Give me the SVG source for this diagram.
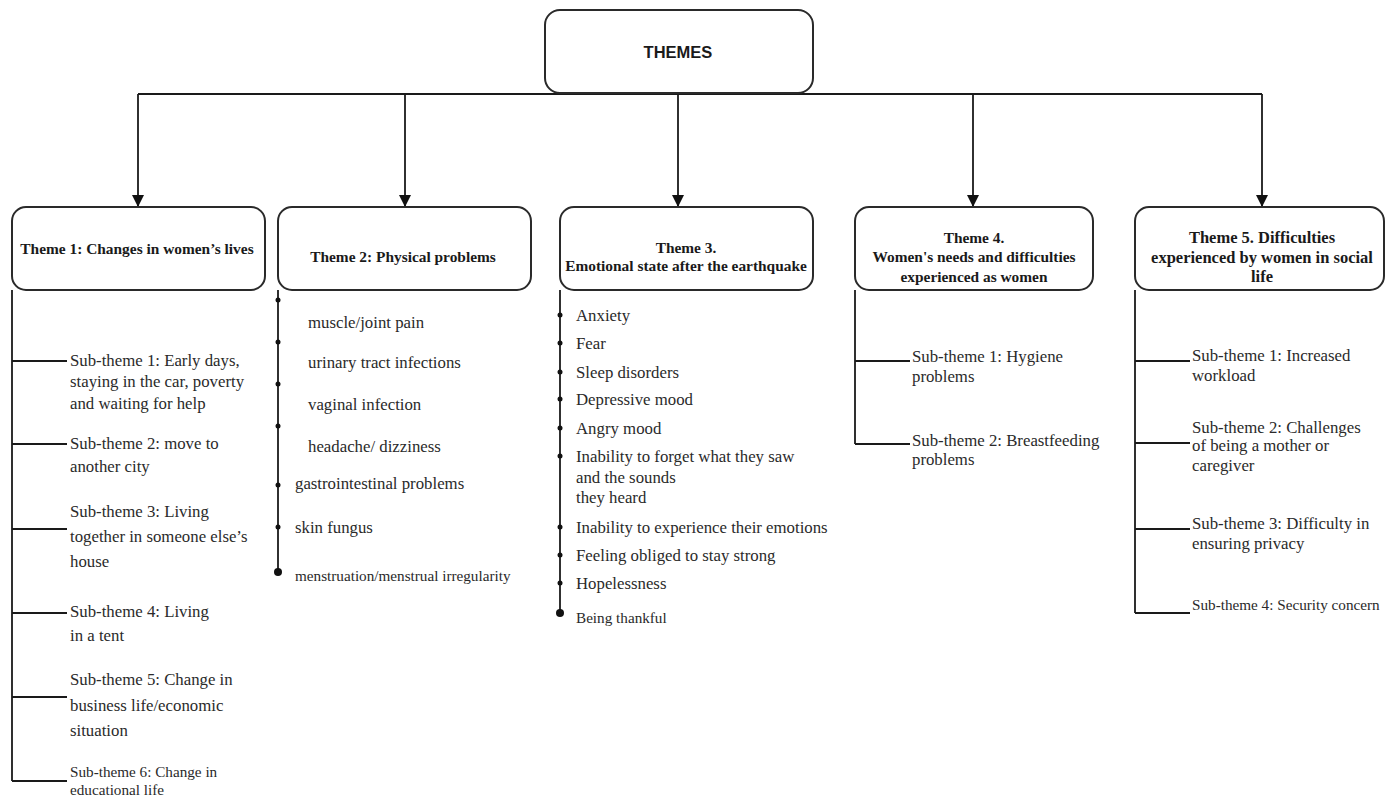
<svg xmlns="http://www.w3.org/2000/svg" width="1386" height="796" viewBox="0 0 1386 796">
<defs>
<marker id="arr" viewBox="0 0 12 12" refX="11" refY="6" markerWidth="12" markerHeight="12" markerUnits="userSpaceOnUse" orient="auto">
<path d="M0,0 L12,6 L0,12 Z" fill="#111"/>
</marker>
</defs>
<style>
.box{fill:#fff;stroke:#2a2a2a;stroke-width:2}
.ln{fill:none;stroke:#1a1a1a;stroke-width:1.8}
.dot{fill:#111}
.top{font-family:"Liberation Sans",Arial,sans-serif;font-weight:bold;font-size:16.5px;fill:#1a1a1a;text-anchor:middle}
.tt{font-family:"Liberation Serif","Times New Roman",serif;font-weight:bold;font-size:15.4px;fill:#1a1a1a;text-anchor:middle}
.st{font-family:"Liberation Serif","Times New Roman",serif;font-size:16.8px;fill:#2a2a2a}
.sm{font-family:"Liberation Serif","Times New Roman",serif;font-size:15.2px;fill:#2a2a2a}
</style>
<rect width="1386" height="796" fill="#fff"/>

<g id="connectors">
<path class="ln" d="M138,94 H1262"/>
<path class="ln" d="M138,94 V206" marker-end="url(#arr)"/>
<path class="ln" d="M405,94 V206" marker-end="url(#arr)"/>
<path class="ln" d="M678,94 V206" marker-end="url(#arr)"/>
<path class="ln" d="M973,94 V206" marker-end="url(#arr)"/>
<path class="ln" d="M1262,94 V206" marker-end="url(#arr)"/>
<!-- theme 1 tree -->
<path class="ln" d="M12,290 V781 M12,361 H67 M12,444 H67 M12,529 H67 M12,613 H67 M12,697 H67 M12,781 H67"/>
<!-- theme 2 tree -->
<path class="ln" d="M278,290 V572"/>
<circle class="dot" cx="278" cy="300" r="2.5"/>
<circle class="dot" cx="278" cy="342" r="2.5"/>
<circle class="dot" cx="278" cy="384" r="2.5"/>
<circle class="dot" cx="278" cy="426" r="2.5"/>
<circle class="dot" cx="278" cy="485" r="2.5"/>
<circle class="dot" cx="278" cy="527" r="2.5"/>
<circle class="dot" cx="278" cy="572" r="4"/>
<!-- theme 3 tree -->
<path class="ln" d="M560,290 V613"/>
<circle class="dot" cx="560" cy="315" r="2.5"/>
<circle class="dot" cx="560" cy="343" r="2.5"/>
<circle class="dot" cx="560" cy="372" r="2.5"/>
<circle class="dot" cx="560" cy="399" r="2.5"/>
<circle class="dot" cx="560" cy="428" r="2.5"/>
<circle class="dot" cx="560" cy="456" r="2.5"/>
<circle class="dot" cx="560" cy="527" r="2.5"/>
<circle class="dot" cx="560" cy="555" r="2.5"/>
<circle class="dot" cx="560" cy="583" r="2.5"/>
<circle class="dot" cx="560" cy="613" r="4"/>
<!-- theme 4 tree -->
<path class="ln" d="M855,290 V444 M855,361 H910 M855,444 H910"/>
<!-- theme 5 tree -->
<path class="ln" d="M1135,290 V613 M1135,361 H1190 M1135,443 H1190 M1135,529 H1190 M1135,613 H1190"/>
</g>

<g id="themes">
<rect class="box" x="545" y="10" width="268" height="83" rx="15"/>
<text class="top" x="678" y="58">THEMES</text>
</g>

<g id="theme1">
<rect class="box" x="12" y="207" width="253" height="83" rx="14"/>
<text class="tt" x="137" y="254">Theme 1: Changes in women’s lives</text>
<text class="st" x="70" y="366">Sub-theme 1: Early days,</text>
<text class="st" x="70" y="387">staying in the car, poverty</text>
<text class="st" x="70" y="409">and waiting for help</text>
<text class="st" x="70" y="449">Sub-theme 2: move to</text>
<text class="st" x="70" y="472">another city</text>
<text class="st" x="70" y="517">Sub-theme 3: Living</text>
<text class="st" x="70" y="542">together in someone else’s</text>
<text class="st" x="70" y="567">house</text>
<text class="st" x="70" y="617">Sub-theme 4: Living</text>
<text class="st" x="70" y="641">in a tent</text>
<text class="st" x="70" y="685">Sub-theme 5: Change in</text>
<text class="st" x="70" y="711">business life/economic</text>
<text class="st" x="70" y="736">situation</text>
<text class="sm" x="70" y="777">Sub-theme 6: Change in</text>
<text class="sm" x="70" y="795">educational life</text>
</g>

<g id="theme2">
<rect class="box" x="278" y="207" width="253" height="83" rx="14"/>
<text class="tt" x="403" y="262">Theme 2: Physical problems</text>
<text class="st" x="308" y="327.5">muscle/joint pain</text>
<text class="st" x="308" y="367.5">urinary tract infections</text>
<text class="st" x="308" y="409.5">vaginal infection</text>
<text class="st" x="308" y="451.5">headache/ dizziness</text>
<text class="st" x="295" y="488.5">gastrointestinal problems</text>
<text class="st" x="295" y="532.5">skin fungus</text>
<text class="sm" x="295" y="581">menstruation/menstrual irregularity</text>
</g>

<g id="theme3">
<rect class="box" x="560" y="207" width="253" height="83" rx="14"/>
<text class="tt" x="686" y="253">Theme 3.</text>
<text class="tt" x="686" y="271">Emotional state after the earthquake</text>
<text class="st" x="576" y="320.5">Anxiety</text>
<text class="st" x="576" y="348.5">Fear</text>
<text class="st" x="576" y="377.5">Sleep disorders</text>
<text class="st" x="576" y="404.5">Depressive mood</text>
<text class="st" x="576" y="433.5">Angry mood</text>
<text class="st" x="576" y="461.5">Inability to forget what they saw</text>
<text class="st" x="576" y="482.5">and the sounds</text>
<text class="st" x="576" y="502.5">they heard</text>
<text class="st" x="576" y="532.5">Inability to experience their emotions</text>
<text class="st" x="576" y="560.5">Feeling obliged to stay strong</text>
<text class="st" x="576" y="588.5">Hopelessness</text>
<text class="sm" x="576" y="623">Being thankful</text>
</g>

<g id="theme4">
<rect class="box" x="855" y="207" width="238" height="83" rx="14"/>
<text class="tt" x="974" y="243">Theme 4.</text>
<text class="tt" x="974" y="262">Women's needs and difficulties</text>
<text class="tt" x="974" y="282">experienced as women</text>
<text class="st" x="912" y="361.5">Sub-theme 1: Hygiene</text>
<text class="st" x="912" y="381.5">problems</text>
<text class="st" x="912" y="445.5">Sub-theme 2: Breastfeeding</text>
<text class="st" x="912" y="464.5">problems</text>
</g>

<g id="theme5">
<rect class="box" x="1135" y="207" width="249" height="83" rx="14"/>
<text class="tt" x="1262" y="243" style="font-size:16.5px">Theme 5. Difficulties</text>
<text class="tt" x="1262" y="263" style="font-size:16.5px">experienced by women in social</text>
<text class="tt" x="1262" y="282" style="font-size:16.5px">life</text>
<text class="st" x="1192" y="360.5">Sub-theme 1: Increased</text>
<text class="st" x="1192" y="380.5">workload</text>
<text class="st" x="1192" y="432.5">Sub-theme 2: Challenges</text>
<text class="st" x="1192" y="450.5">of being a mother or</text>
<text class="st" x="1192" y="470.5">caregiver</text>
<text class="st" x="1192" y="528.5">Sub-theme 3: Difficulty in</text>
<text class="st" x="1192" y="548.5">ensuring privacy</text>
<text class="sm" x="1192" y="610">Sub-theme 4: Security concern</text>
</g>
</svg>
